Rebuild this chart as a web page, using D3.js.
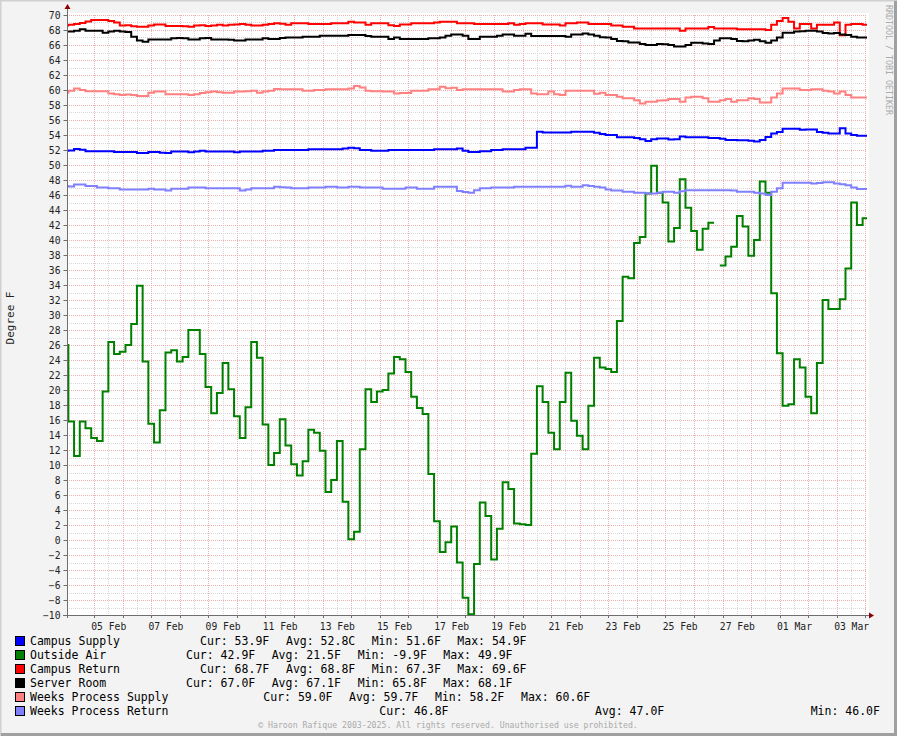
<!DOCTYPE html>
<html>
<head>
<meta charset="utf-8">
<script src="https://cdn.jsdelivr.net/npm/d3@7/dist/d3.min.js"></script>
<style>
  html, body { margin: 0; padding: 0; background: #f3f3f3; }
  svg { display: block; }
  text { font-family: "DejaVu Sans Mono", monospace; }
</style>
</head>
<body>
<svg id="chart" width="897" height="736"></svg>
<script>
// ---------------- DATA ----------------
// Samples every 4.8 h, first sample starting 2025-02-03 21:40 UTC
const sampleStart = Date.UTC(2025, 1, 3, 21, 40);
const sampleStepHours = 4.8;

const seriesNames = ["Campus Supply", "Outside Air", "Campus Return", "Server Room", "Weeks Process Supply", "Weeks Process Return"];
const seriesColors = ["#0000ff", "#008000", "#ff0000", "#000000", "#ff8080", "#8080ff"];

const campusSupply = [
  51.9, 51.95, 52.15, 52.05, 51.85, 51.85, 51.85, 51.85, 51.85, 51.75,
  51.75, 51.75, 51.75, 51.6, 51.6, 51.75, 51.75, 51.65, 51.6, 51.8,
  51.8, 51.8, 51.7, 51.8, 51.9, 51.8, 51.8, 51.8, 51.8, 51.8,
  51.7, 51.8, 51.8, 51.8, 51.8, 51.9, 51.9, 52.0, 52.0, 52.0,
  52.0, 52.0, 52.0, 52.1, 52.1, 52.1, 52.1, 52.1, 52.1, 52.2,
  52.3, 52.25, 52.0, 52.0, 51.9, 51.9, 51.9, 52.0, 52.0, 52.0,
  52.0, 52.0, 52.0, 52.0, 52.0, 52.1, 52.1, 52.1, 52.1, 52.2,
  51.9, 51.75, 51.75, 51.85, 51.85, 52.0, 52.0, 52.1, 52.1, 52.1,
  52.1, 52.3, 52.3, 54.45, 54.35, 54.35, 54.35, 54.35, 54.35, 54.45,
  54.45, 54.45, 54.45, 54.3, 54.15, 54.0, 54.0, 53.7, 53.7, 53.7,
  53.6, 53.45, 53.2, 53.45, 53.55, 53.55, 53.4, 53.45, 53.8, 53.7,
  53.7, 53.7, 53.7, 53.6, 53.6, 53.5, 53.35, 53.35, 53.3, 53.3,
  53.25, 53.15, 53.35, 53.75, 54.2, 54.4, 54.85, 54.85, 54.85, 54.7,
  54.75, 54.75, 54.4, 54.3, 54.2, 54.2, 54.9, 54.2, 54.0, 53.9,
  53.9
];

const outsideAir = [
  26.0, 15.8, 11.2, 15.8, 14.9, 13.6, 13.2, 19.8, 26.4, 24.8,
  25.1, 26.0, 28.8, 33.9, 23.8, 15.5, 13.0, 17.3, 25.0, 25.3,
  23.8, 24.4, 28.0, 28.0, 24.8, 20.4, 16.9, 19.6, 23.6, 20.1,
  16.5, 13.6, 17.7, 26.4, 24.3, 15.4, 10.0, 11.6, 16.1, 12.6,
  10.1, 8.6, 10.5, 14.7, 14.3, 11.9, 6.4, 8.0, 13.2, 5.1,
  0.1, 1.1, 12.1, 20.1, 18.4, 19.8, 20.0, 22.2, 24.4, 24.1,
  22.4, 19.1, 17.6, 16.8, 8.8, 2.5, -1.6, -0.3, 1.8, -3.0,
  -7.7, -9.9, -3.2, 5.0, 3.2, -2.6, 1.5, 7.7, 6.8, 2.2,
  2.1, 2.0, 11.5, 20.5, 18.4, 14.3, 12.1, 18.4, 22.3, 15.9,
  13.9, 12.1, 17.9, 24.3, 23.0, 22.8, 22.4, 29.2, 35.1, 34.9,
  39.6, 40.4, 46.2, 49.9, 46.3, 45.0, 39.8, 41.6, 48.1, 44.3,
  41.2, 38.7, 41.5, 42.3, null, 36.6, 37.8, 39.1, 43.2, 41.8,
  37.9, 40.0, 47.8, 46.3, 32.9, 24.9, 17.9, 18.1, 24.1, 23.0,
  19.1, 16.9, 23.6, 32.0, 30.8, 30.8, 32.1, 36.2, 45.0, 42.0,
  42.9
];

const campusReturn = [
  68.6, 68.7, 68.8, 68.95, 69.15, 69.35, 69.35, 69.35, 69.2, 69.0,
  68.6, 68.65, 68.5, 68.45, 68.45, 68.6, 68.75, 68.75, 68.55, 68.55,
  68.55, 68.5, 68.45, 68.6, 68.65, 68.55, 68.6, 68.7, 68.6, 68.7,
  68.75, 68.8, 68.7, 68.6, 68.6, 68.7, 68.8, 68.9, 68.85, 68.7,
  68.9, 68.9, 68.9, 68.8, 68.8, 68.8, 68.8, 68.9, 68.9, 68.9,
  69.1, 69.0, 69.0, 68.7, 68.9, 68.9, 68.9, 68.65, 68.55, 68.75,
  68.75, 68.9, 68.9, 68.9, 68.9, 69.0, 69.1, 69.1, 69.1, 68.9,
  68.9, 68.9, 68.8, 68.8, 68.8, 68.8, 68.8, 68.8, 68.9, 68.7,
  68.8, 68.9, 68.9, 68.9, 68.75, 68.75, 68.75, 68.6, 68.9, 68.9,
  69.0, 69.0, 68.8, 68.8, 68.8, 68.8, 68.6, 68.6, 68.45, 68.45,
  68.2, 68.2, 68.2, 68.2, 68.2, 68.2, 68.2, 68.2, 67.9, 68.2,
  68.2, 68.2, 68.2, 68.4, 68.2, 68.2, 68.2, 68.2, 68.1, 68.1,
  68.1, 68.1, 68.1, 68.0, 68.7, 69.2, 69.6, 69.1, 68.2, 68.8,
  68.8, 68.2, 68.7, 68.7, 68.7, 69.0, 67.3, 68.7, 68.8, 68.8,
  68.7
];

const serverRoom = [
  67.8, 67.8, 67.9, 68.1, 67.9, 67.9, 67.9, 67.65, 67.8, 67.9,
  67.8, 67.75, 67.1, 66.6, 66.45, 66.75, 66.75, 66.75, 66.75, 66.9,
  66.95, 66.9, 66.75, 66.75, 66.9, 66.95, 66.75, 66.75, 66.75, 66.7,
  66.6, 66.6, 66.75, 66.75, 66.75, 66.9, 66.8, 66.8, 66.95, 67.0,
  67.0, 67.0, 67.1, 67.1, 67.1, 67.25, 67.25, 67.25, 67.25, 67.25,
  67.35, 67.35, 67.35, 67.2, 67.1, 67.1, 67.1, 66.8, 67.0, 66.8,
  66.8, 66.8, 66.8, 66.8, 66.9, 66.9, 67.0, 67.25, 67.4, 67.4,
  67.25, 66.8, 66.8, 67.1, 67.1, 67.1, 67.25, 67.4, 67.4, 67.25,
  67.25, 67.5, 67.2, 67.2, 67.2, 67.2, 67.2, 67.2, 67.1, 67.4,
  67.4, 67.55, 67.4, 67.25, 67.05, 67.0, 66.8, 66.55, 66.5, 66.35,
  66.35, 66.15, 66.0, 66.0, 66.15, 66.1, 66.0, 65.8, 65.8, 66.0,
  66.3, 66.3, 66.2, 66.15, 66.6, 66.9, 66.9, 66.8, 66.55, 66.5,
  66.6, 66.7, 66.5, 66.3, 66.6, 67.0, 67.65, 67.65, 67.8, 67.85,
  67.9, 67.9, 67.8, 67.6, 67.55, 67.6, 67.4, 67.35, 67.1, 67.0,
  67.0
];

const weeksProcessSupply = [
  59.65, 59.9, 60.2, 60.0, 59.85, 59.85, 59.85, 59.85, 59.55, 59.45,
  59.35, 59.4, 59.35, 59.2, 59.2, 59.65, 59.8, 59.8, 59.45, 59.45,
  59.45, 59.45, 59.35, 59.45, 59.6, 59.7, 59.8, 59.7, 59.65, 59.65,
  59.8, 59.8, 59.85, 59.9, 59.65, 59.8, 59.9, 60.15, 60.1, 60.1,
  60.1, 60.1, 59.9, 59.9, 60.0, 60.0, 60.1, 60.1, 60.1, 60.1,
  60.2, 60.55, 60.35, 59.9, 59.85, 59.85, 59.8, 59.8, 59.55, 59.6,
  59.6, 59.9, 59.9, 59.9, 60.1, 60.1, 60.45, 60.25, 60.3, 60.0,
  60.1, 60.1, 60.1, 60.1, 60.1, 60.1, 60.1, 59.8, 59.8, 60.0,
  60.1, 60.1, 59.55, 59.45, 59.45, 59.8, 59.45, 59.35, 59.9, 59.9,
  59.9, 59.9, 59.9, 59.5, 59.65, 59.35, 59.35, 59.1, 58.9, 58.9,
  58.65, 58.2, 58.45, 58.45, 58.6, 58.65, 58.8, 58.8, 58.45, 59.0,
  59.1, 59.1, 58.9, 58.45, 58.45, 58.65, 58.8, 58.45, 58.65, 58.65,
  58.9, 58.8, 58.35, 58.35, 59.0, 59.55, 60.2, 60.2, 60.2, 60.0,
  60.0, 60.1, 60.1, 59.9, 59.8, 59.55, 59.8, 59.35, 59.0, 59.0,
  59.0
];

const weeksProcessReturn = [
  47.2, 47.15, 47.4, 47.4, 47.2, 47.2, 47.0, 47.0, 46.9, 46.9,
  46.75, 46.75, 46.75, 46.75, 46.75, 46.85, 46.75, 46.75, 46.6, 46.85,
  46.85, 46.85, 47.0, 47.0, 47.0, 46.9, 46.9, 46.9, 46.9, 46.9,
  46.9, 46.6, 46.75, 46.9, 46.9, 46.9, 46.9, 47.1, 47.05, 47.0,
  46.9, 46.9, 46.9, 47.0, 47.0, 47.0, 47.1, 47.1, 47.0, 47.0,
  47.1, 47.1, 47.0, 47.0, 47.0, 47.0, 46.85, 46.85, 46.85, 46.85,
  47.0, 47.0, 46.85, 46.85, 46.85, 47.1, 47.1, 47.1, 47.1, 46.55,
  46.4, 46.3, 46.65, 46.9, 46.9, 47.0, 47.0, 47.0, 47.0, 47.1,
  47.1, 47.1, 47.1, 47.1, 47.1, 47.1, 47.1, 47.1, 47.25, 47.1,
  47.1, 47.3, 47.2, 47.1, 47.0, 46.75, 46.6, 46.6, 46.45, 46.45,
  46.3, 46.3, 46.2, 46.2, 46.3, 46.45, 46.45, 46.3, 46.5, 46.65,
  46.65, 46.65, 46.65, 46.65, 46.65, 46.65, 46.65, 46.6, 46.45, 46.45,
  46.45, 46.3, 46.2, 46.0, 46.45, 46.9, 47.65, 47.65, 47.65, 47.65,
  47.65, 47.55, 47.6, 47.7, 47.7, 47.55, 47.45, 47.3, 47.0, 46.8,
  46.8
];

const yTickValues = d3.range(-10, 71, 2);
const xLabelDays = ["2025-02-05", "2025-02-07", "2025-02-09", "2025-02-11", "2025-02-13", "2025-02-15", "2025-02-17",
  "2025-02-19", "2025-02-21", "2025-02-23", "2025-02-25", "2025-02-27", "2025-03-01", "2025-03-03"];

const legendStats = [
  ["Cur: 53.9F", "Avg: 52.8C", "Min: 51.6F", "Max: 54.9F"],
  ["Cur: 42.9F", "Avg: 21.5F", "Min: -9.9F", "Max: 49.9F"],
  ["Cur: 68.7F", "Avg: 68.8F", "Min: 67.3F", "Max: 69.6F"],
  ["Cur: 67.0F", "Avg: 67.1F", "Min: 65.8F", "Max: 68.1F"],
  ["Cur: 59.0F", "Avg: 59.7F", "Min: 58.2F", "Max: 60.6F"],
  ["Cur: 46.8F", "Avg: 47.0F", "Min: 46.0F"]
];

// ---------------- LAYOUT ----------------
const W = 897, H = 736;
const plot = { left: 67, right: 867, top: 15, bottom: 615 };

const svg = d3.select("#chart");

// canvas frame
svg.append("rect").attr("x", 0).attr("y", 0).attr("width", W).attr("height", H).attr("fill", "#f3f3f3");
svg.append("path").attr("d", `M0.5,${H} V0.5 H${W}`).attr("fill", "none").attr("stroke", "#d0d0d0").attr("stroke-width", 2);
svg.append("path").attr("d", `M1,${H - 1.5} H${W - 1.5} V1`).attr("fill", "none").attr("stroke", "#a0a0a0").attr("stroke-width", 3);

// plot background
svg.append("rect").attr("x", plot.left).attr("y", plot.top - 2).attr("width", plot.right - plot.left + 2).attr("height", plot.bottom - plot.top + 2).attr("fill", "#ffffff");

const x = d3.scaleUtc()
  .domain([new Date(Date.UTC(2025, 1, 4, 1, 20)), new Date(Date.UTC(2025, 2, 4, 1, 20))])
  .range([plot.left, plot.right]);
const y = d3.scaleLinear().domain([-10, 70]).range([plot.bottom, plot.top]);

// grid
const minorColor = "#d8d8d8", majorColor = "#efb0b0";
const gGrid = svg.append("g");
const minorY = d3.range(-10, 71, 1).filter(v => v % 2 !== 0);
gGrid.selectAll(".hminor").data(minorY).enter().append("line")
  .attr("x1", plot.left).attr("x2", plot.right)
  .attr("y1", d => Math.round(y(d)) + 0.5).attr("y2", d => Math.round(y(d)) + 0.5)
  .attr("stroke", minorColor).attr("stroke-dasharray", "1,1");
const noonTicks = d3.utcDay.range(x.domain()[0], x.domain()[1]).map(d => new Date(+d + 12 * 3600e3)).filter(d => d < x.domain()[1]);
gGrid.selectAll(".vminor").data(noonTicks).enter().append("line")
  .attr("x1", d => Math.round(x(d)) + 0.5).attr("x2", d => Math.round(x(d)) + 0.5)
  .attr("y1", plot.top).attr("y2", plot.bottom)
  .attr("stroke", minorColor).attr("stroke-dasharray", "1,1");
gGrid.selectAll(".hmajor").data(yTickValues).enter().append("line")
  .attr("x1", plot.left).attr("x2", plot.right)
  .attr("y1", d => Math.round(y(d)) + 0.5).attr("y2", d => Math.round(y(d)) + 0.5)
  .attr("stroke", majorColor).attr("stroke-dasharray", "1,1");
const dayTicks = d3.utcDay.range(x.domain()[0], x.domain()[1]);
gGrid.selectAll(".vmajor").data(dayTicks).enter().append("line")
  .attr("x1", d => Math.round(x(d)) + 0.5).attr("x2", d => Math.round(x(d)) + 0.5)
  .attr("y1", plot.top).attr("y2", plot.bottom)
  .attr("stroke", majorColor).attr("stroke-dasharray", "1,1");

// clip
svg.append("clipPath").attr("id", "clip").append("rect")
  .attr("x", plot.left).attr("y", plot.top - 2).attr("width", plot.right - plot.left).attr("height", plot.bottom - plot.top + 2);

// series
const allSeries = [campusSupply, outsideAir, campusReturn, serverRoom, weeksProcessSupply, weeksProcessReturn];
function stepPoints(values) {
  const pts = [];
  values.forEach((v, k) => {
    const t0 = new Date(sampleStart + k * sampleStepHours * 3600e3);
    const t1 = new Date(sampleStart + (k + 1) * sampleStepHours * 3600e3);
    pts.push({ t: t0, v: v }, { t: t1, v: v });
  });
  return pts;
}
const line = d3.line().defined(d => d.v !== null).x(d => x(d.t)).y(d => y(d.v));
const gSeries = svg.append("g").attr("clip-path", "url(#clip)");
allSeries.forEach((vals, i) => {
  gSeries.append("path").attr("d", line(stepPoints(vals)))
    .attr("fill", "none").attr("stroke", seriesColors[i]).attr("stroke-width", 2)
    .attr("stroke-linejoin", "miter").attr("stroke-linecap", "butt");
});

// axes
const axisColor = "#6e6e6e";
const yAxis = d3.axisLeft(y).tickValues(yTickValues).tickSize(4).tickPadding(3).tickFormat(d3.format("d"));
const gy = svg.append("g").attr("transform", `translate(${plot.left + 0.5},0)`).call(yAxis);
gy.select(".domain").remove();
gy.selectAll(".tick line").attr("stroke", axisColor);
gy.selectAll(".tick text").attr("font-size", "9.7px").attr("fill", "#222").attr("font-family", "DejaVu Sans Mono");

const labelDates = xLabelDays.map(s => new Date(s + "T12:00:00Z"));
const xAxis = d3.axisBottom(x).tickValues(labelDates).tickSize(0).tickPadding(8).tickFormat(d3.utcFormat("%d %b"));
const gx = svg.append("g").attr("transform", `translate(0,${plot.bottom + 0.5})`).call(xAxis);
gx.select(".domain").remove();
gx.selectAll(".tick text").attr("font-size", "9.7px").attr("fill", "#222").attr("font-family", "DejaVu Sans Mono");

// x-axis day ticks
svg.append("g").selectAll("line").data(dayTicks).enter().append("line")
  .attr("x1", d => Math.round(x(d)) + 0.5).attr("x2", d => Math.round(x(d)) + 0.5)
  .attr("y1", plot.bottom).attr("y2", plot.bottom + 3).attr("stroke", axisColor);

// axis lines + arrows
svg.append("line").attr("x1", plot.left - 4).attr("x2", plot.right + 3).attr("y1", plot.bottom + 0.5).attr("y2", plot.bottom + 0.5).attr("stroke", axisColor);
svg.append("line").attr("x1", plot.left + 0.5).attr("x2", plot.left + 0.5).attr("y1", plot.bottom + 3).attr("y2", plot.top - 6).attr("stroke", axisColor);
svg.append("path").attr("d", `M${plot.right + 2},${plot.bottom - 2.5} L${plot.right + 7},${plot.bottom + 0.5} L${plot.right + 2},${plot.bottom + 3.5} Z`).attr("fill", "#8b0000");
svg.append("path").attr("d", `M${plot.left - 2.5},${plot.top - 6} L${plot.left + 0.5},${plot.top - 11} L${plot.left + 3.5},${plot.top - 6} Z`).attr("fill", "#8b0000");

// y label
svg.append("text").attr("transform", `translate(14,${(plot.top + plot.bottom) / 2 + 3}) rotate(-90)`)
  .attr("text-anchor", "middle").attr("font-size", "11px").attr("fill", "#222").text("Degree F");

// watermark
svg.append("text").attr("transform", `translate(886,5) rotate(90)`)
  .attr("text-anchor", "start").attr("font-size", "8.3px").attr("fill", "#aaaaaa").text("RRDTOOL / TOBI OETIKER");

// legend
const legendX = [
  [200, 286, 371.7, 457.3],
  [186, 271.7, 357.7, 443.3],
  [200, 286, 371.7, 457.3],
  [186, 271.7, 357.7, 443.3],
  [263.3, 349, 435, 521],
  [379.3, 595, 810.7]
];
const gLeg = svg.append("g");
seriesNames.forEach((name, i) => {
  const by = 645 + i * 14;
  gLeg.append("rect").attr("x", 15.5).attr("y", by - 8.5).attr("width", 9).attr("height", 9)
    .attr("fill", seriesColors[i]).attr("stroke", "#000").attr("stroke-width", 1);
  gLeg.append("text").attr("x", 30).attr("y", by).attr("font-size", "11.5px").attr("fill", "#000").text(name);
  legendStats[i].forEach((s, j) => {
    gLeg.append("text").attr("x", legendX[i][j]).attr("y", by).attr("font-size", "11.5px").attr("fill", "#000").text(s);
  });
});

// footer
svg.append("text").attr("x", 448).attr("y", 728).attr("text-anchor", "middle")
  .attr("font-size", "8.2px").attr("fill", "#aaaaaa")
  .text("© Haroon Rafique 2003-2025. All rights reserved. Unauthorised use prohibited.");
</script>
</body>
</html>
